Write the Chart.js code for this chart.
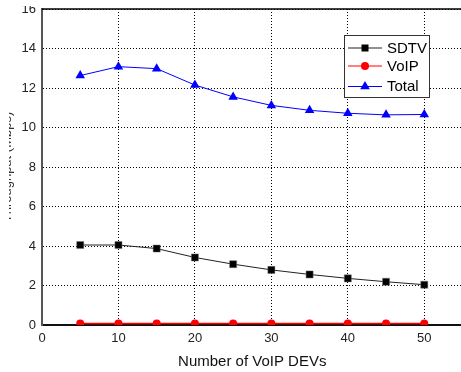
<!DOCTYPE html>
<html>
<head>
<meta charset="utf-8">
<script src="https://cdn.jsdelivr.net/npm/chart.js@4.4.1/dist/chart.umd.min.js"></script>
<style>
  html, body { margin: 0; padding: 0; background: #fff; overflow: hidden; }
  #wrap { width: 461px; height: 372px; overflow: hidden; }
</style>
</head>
<body>
<div id="wrap"><canvas id="chart" width="468" height="372"></canvas></div>
<script>
const devCounts = [5, 10, 15, 20, 25, 30, 35, 40, 45, 50];
const sdtvValues = [4.05, 4.05, 3.87, 3.42, 3.08, 2.79, 2.56, 2.36, 2.19, 2.04];
const voipValues = [0.08, 0.08, 0.08, 0.08, 0.08, 0.08, 0.08, 0.08, 0.08, 0.08];
const totalValues = [12.63, 13.08, 12.98, 12.15, 11.55, 11.12, 10.87, 10.72, 10.64, 10.66];
const seriesNames = ['SDTV', 'VoIP', 'Total'];
const xTitle = 'Number of VoIP DEVs';
const yTitle = 'Throughput (Mbps)';

const font = 'Liberation Sans, Arial, sans-serif';

function toPoints(values) {
    return devCounts.map((x, i) => ({ x: x, y: values[i] }));
}

// legend with line + marker sample, drawn in a box like the original
const boxLegend = {
    id: 'boxLegend',
    afterDraw(chart) {
        const ctx = chart.ctx;
        ctx.save();
        // top frame line
        const area = chart.chartArea;
        ctx.strokeStyle = '#000';
        ctx.lineWidth = 1.5;
        ctx.beginPath();
        ctx.moveTo(area.left, area.top);
        ctx.lineTo(area.right, area.top);
        ctx.stroke();

        // cropped "16" label at top, like the source picture
        ctx.fillStyle = '#fff';
        ctx.fillRect(0, 0, area.left - 2, 6);

        // y title, almost fully cut off
        ctx.save();
        ctx.beginPath();
        ctx.rect(9, 0, 5, chart.height);
        ctx.clip();
        ctx.translate(11, (area.top + area.bottom) / 2);
        ctx.rotate(-Math.PI / 2);
        ctx.fillStyle = '#333';
        ctx.font = '13px ' + font;
        ctx.textAlign = 'center';
        ctx.textBaseline = 'alphabetic';
        ctx.fillText(yTitle, 0, 0);
        ctx.restore();

        const bx = 344, by = 35, bw = 85, bh = 62;
        ctx.fillStyle = '#fff';
        ctx.fillRect(bx, by, bw, bh);
        ctx.strokeStyle = '#333';
        ctx.lineWidth = 1;
        ctx.strokeRect(bx + 0.5, by + 0.5, bw, bh);

        const rows = [48, 66, 86.5];
        chart.data.datasets.forEach((ds, i) => {
            const y = rows[i];
            ctx.strokeStyle = ds.borderColor;
            ctx.lineWidth = 1;
            ctx.beginPath();
            ctx.moveTo(348, y);
            ctx.lineTo(382, y);
            ctx.stroke();
            ctx.fillStyle = ds.pointBackgroundColor;
            const mx = 365;
            ctx.beginPath();
            if (ds.pointStyle === 'rect') {
                ctx.rect(mx - 3.5, y - 3.5, 7, 7);
            } else if (ds.pointStyle === 'circle') {
                ctx.arc(mx, y, 4, 0, Math.PI * 2);
            } else {
                ctx.moveTo(mx, y - 5.5);
                ctx.lineTo(mx + 4.8, y + 2.8);
                ctx.lineTo(mx - 4.8, y + 2.8);
                ctx.closePath();
            }
            ctx.fill();
            ctx.fillStyle = '#000';
            ctx.font = '15px ' + font;
            ctx.textAlign = 'left';
            ctx.textBaseline = 'middle';
            ctx.fillText(ds.label, 387, y + 0.5);
        });
        ctx.restore();
    }
};

new Chart(document.getElementById('chart'), {
    type: 'line',
    data: {
        datasets: [
            {
                label: seriesNames[0],
                data: toPoints(sdtvValues),
                borderColor: '#222',
                borderWidth: 1,
                pointStyle: 'rect',
                pointRadius: 5,
                pointBackgroundColor: '#000',
                pointBorderColor: '#777',
                pointBorderWidth: 0.5
            },
            {
                label: seriesNames[1],
                data: toPoints(voipValues),
                borderColor: '#f00',
                borderWidth: 1.5,
                pointStyle: 'circle',
                pointRadius: 4,
                pointBackgroundColor: '#f00',
                pointBorderColor: '#f00',
                pointBorderWidth: 0
            },
            {
                label: seriesNames[2],
                data: toPoints(totalValues),
                borderColor: '#0000ff',
                borderWidth: 1,
                pointStyle: 'triangle',
                pointRadius: 5.5,
                pointBackgroundColor: '#0000ff',
                pointBorderColor: '#0000ff',
                pointBorderWidth: 0
            }
        ]
    },
    options: {
        responsive: false,
        animation: false,
        devicePixelRatio: 1,
        layout: { padding: { top: 9, right: 0, left: 0, bottom: 0 } },
        plugins: {
            legend: { display: false },
            tooltip: { enabled: false }
        },
        scales: {
            x: {
                type: 'linear',
                min: 0,
                max: 55,
                afterBuildTicks: (scale) => {
                    scale.ticks = scale.ticks.filter(t => t.value <= 50);
                },
                afterFit: (scale) => {
                    scale.height = 47;
                    scale.paddingLeft = 0;
                    scale.paddingRight = 0;
                },
                ticks: {
                    stepSize: 10,
                    color: '#222',
                    font: { family: font, size: 13 },
                    padding: 6,
                    maxRotation: 0
                },
                grid: {
                    color: '#000',
                    lineWidth: 1,
                    drawTicks: false
                },
                border: { display: true, color: '#111', width: 2, dash: [1, 2] },
                title: {
                    display: true,
                    text: xTitle,
                    color: '#111',
                    font: { family: font, size: 15 },
                    padding: { top: 0, bottom: 1 }
                }
            },
            y: {
                min: 0,
                max: 16,
                afterFit: (scale) => {
                    scale.width = 42;
                    scale.paddingTop = 0;
                    scale.paddingBottom = 0;
                },
                ticks: {
                    stepSize: 2,
                    color: '#222',
                    font: { family: font, size: 13 },
                    padding: 6
                },
                grid: {
                    color: '#000',
                    lineWidth: 1,
                    drawTicks: false
                },
                border: { display: true, color: '#555', width: 2, dash: [1, 2] }
            }
        }
    },
    plugins: [boxLegend]
});
</script>
</body>
</html>
